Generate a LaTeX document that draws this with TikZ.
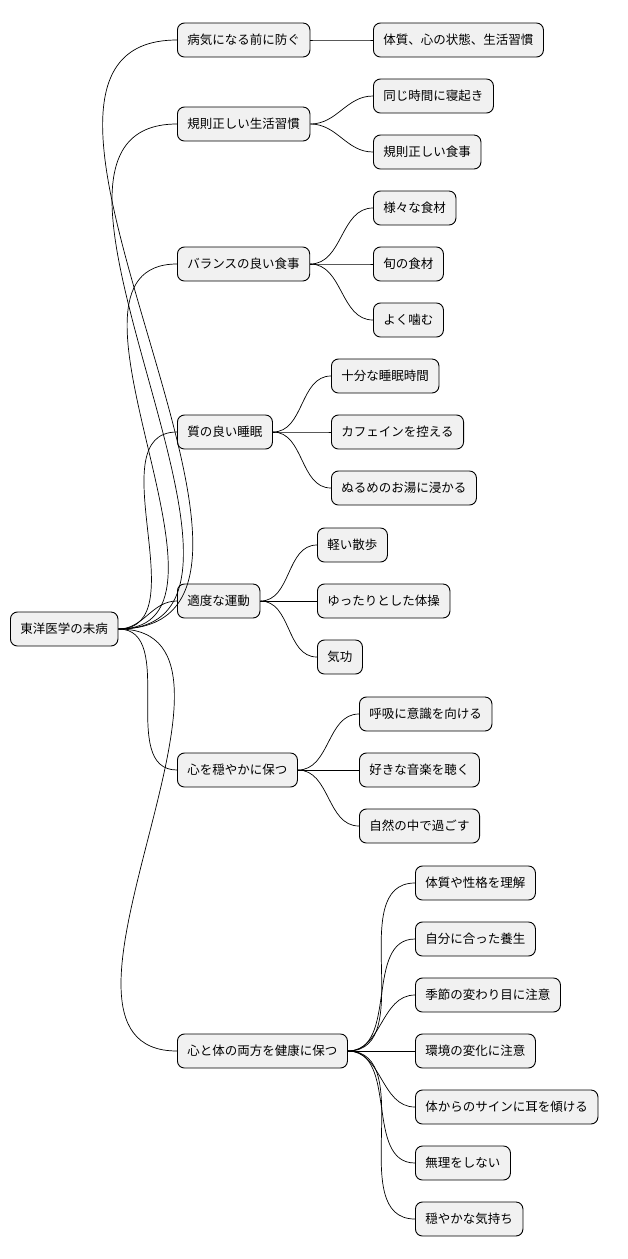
\documentclass[tikz,border=0pt]{standalone}
\usepackage{fontspec}
\setmainfont{Noto Sans CJK JP}
\begin{document}
\begin{tikzpicture}[x=1pt,y=-1pt,
 n/.style={draw=black,line width=0.9pt,fill={rgb,255:red,241;green,241;blue,241},rounded corners=7pt,minimum height=34pt,inner xsep=10pt,anchor=west,font=\fontsize{12.5}{14}\selectfont},
 e/.style={line width=0.7pt}]
\useasboundingbox (0,0) rectangle (628,1259);
\node[n] (r) at (10,629) {東洋医学の未病};
\node[n] (a) at (177,40) {病気になる前に防ぐ};
\node[n] (b) at (177,124) {規則正しい生活習慣};
\node[n] (c) at (177,264) {バランスの良い食事};
\node[n] (d) at (177,432) {質の良い睡眠};
\node[n] (f) at (177,601) {適度な運動};
\node[n] (g) at (177,770) {心を穏やかに保つ};
\node[n] (h) at (177,1051) {心と体の両方を健康に保つ};
\node[n] (a1) at (373,40) {体質、心の状態、生活習慣};
\node[n] (b1) at (373,96) {同じ時間に寝起き};
\node[n] (b2) at (373,152) {規則正しい食事};
\node[n] (c1) at (373,208) {様々な食材};
\node[n] (c2) at (373,264) {旬の食材};
\node[n] (c3) at (373,320) {よく噛む};
\node[n] (d1) at (331,376) {十分な睡眠時間};
\node[n] (d2) at (331,432) {カフェインを控える};
\node[n] (d3) at (331,488) {ぬるめのお湯に浸かる};
\node[n] (f1) at (317,545) {軽い散歩};
\node[n] (f2) at (317,601) {ゆったりとした体操};
\node[n] (f3) at (317,657) {気功};
\node[n] (g1) at (359,714) {呼吸に意識を向ける};
\node[n] (g2) at (359,770) {好きな音楽を聴く};
\node[n] (g3) at (359,826) {自然の中で過ごす};
\node[n] (h1) at (415,883) {体質や性格を理解};
\node[n] (h2) at (415,939) {自分に合った養生};
\node[n] (h3) at (415,995) {季節の変わり目に注意};
\node[n] (h4) at (415,1051) {環境の変化に注意};
\node[n] (h5) at (415,1107) {体からのサインに耳を傾ける};
\node[n] (h6) at (415,1163) {無理をしない};
\node[n] (h7) at (415,1219) {穏やかな気持ち};
\foreach \p/\c in {r/a,r/b,r/c,r/d,r/f,r/g,r/h,a/a1,b/b1,b/b2,c/c1,c/c2,c/c3,d/d1,d/d2,d/d3,f/f1,f/f2,f/f3,g/g1,g/g2,g/g3,h/h1,h/h2,h/h3,h/h4,h/h5,h/h6,h/h7}
  \draw[e] (\p.east) to[out=0,in=180] (\c.west);
\end{tikzpicture}
\end{document}
